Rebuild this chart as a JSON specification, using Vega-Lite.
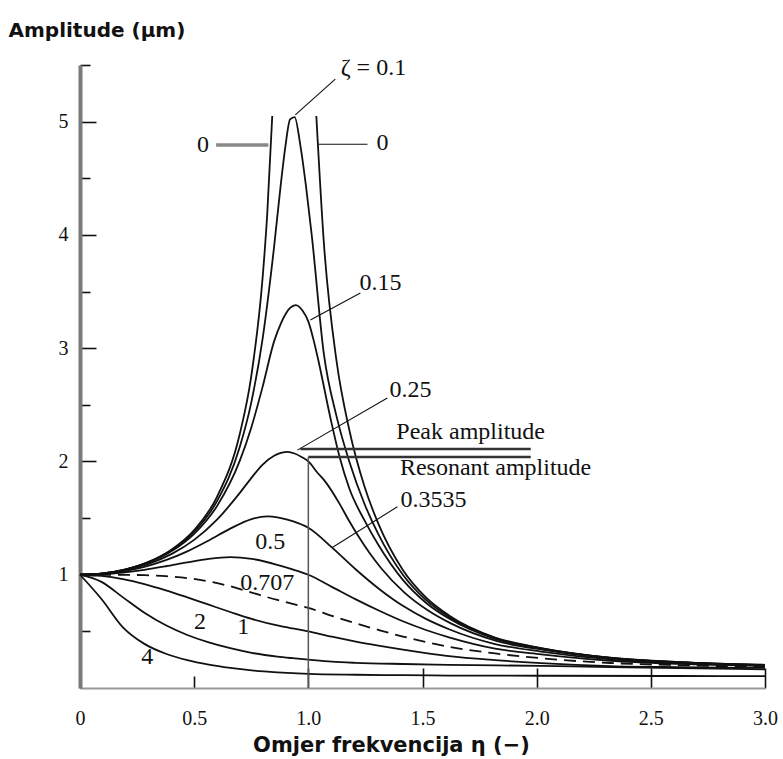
{
  "$schema": "https://vega.github.io/schema/vega-lite/v6.json",
  "width": 685,
  "height": 623,
  "autosize": {"type": "none"},
  "padding": {"left": 80, "top": 65, "right": 18, "bottom": 71},
  "background": "white",
  "config": {"view": {"stroke": null}, "axis": {"grid": false}},
  "datasets": {
    "solid": [
      {"s":"0L","x":0,"y":1},{"s":"0L","x":0.1,"y":1.0114},{"s":"0L","x":0.2,"y":1.0474},{"s":"0L","x":0.3,"y":1.1135},{"s":"0L","x":0.4,"y":1.2212},{"s":"0L","x":0.5,"y":1.3945},{"s":"0L","x":0.6,"y":1.6875},{"s":"0L","x":0.7,"y":2.2452},{"s":"0L","x":0.75,"y":2.7518},{"s":"0L","x":0.8,"y":3.6272},{"s":"0L","x":0.82,"y":4.184},{"s":"0L","x":0.842,"y":5.05},
      {"s":"0R","x":1.035,"y":5.05},{"s":"0R","x":1.068,"y":3.931},{"s":"0R","x":1.123,"y":2.894},{"s":"0R","x":1.18,"y":2.273},{"s":"0R","x":1.246,"y":1.778},{"s":"0R","x":1.307,"y":1.449},{"s":"0R","x":1.414,"y":1.042},{"s":"0R","x":1.515,"y":0.8},{"s":"0R","x":1.616,"y":0.641},{"s":"0R","x":1.818,"y":0.446},{"s":"0R","x":2.02,"y":0.353},{"s":"0R","x":2.323,"y":0.268},{"s":"0R","x":2.626,"y":0.229},{"s":"0R","x":3.0,"y":0.205},
      {"s":"0.1","x":0,"y":1},{"s":"0.1","x":0.1,"y":1.0112},{"s":"0.1","x":0.2,"y":1.0464},{"s":"0.1","x":0.3,"y":1.1107},{"s":"0.1","x":0.4,"y":1.2146},{"s":"0.1","x":0.5,"y":1.3794},{"s":"0.1","x":0.6,"y":1.6496},{"s":"0.1","x":0.7,"y":2.1293},{"s":"0.1","x":0.75,"y":2.5196},{"s":"0.1","x":0.8,"y":3.0863},{"s":"0.1","x":0.85,"y":3.8943},{"s":"0.1","x":0.88,"y":4.457},{"s":"0.1","x":0.9,"y":4.7886},{"s":"0.1","x":0.92,"y":5.02},{"s":"0.1","x":0.94,"y":5.04},{"s":"0.1","x":0.965,"y":4.7908},{"s":"0.1","x":0.99,"y":4.4259},{"s":"0.1","x":1.015,"y":3.9965},{"s":"0.1","x":1.068,"y":2.95},{"s":"0.1","x":1.123,"y":2.4025},{"s":"0.1","x":1.18,"y":1.9952},{"s":"0.1","x":1.246,"y":1.6246},{"s":"0.1","x":1.307,"y":1.3562},{"s":"0.1","x":1.414,"y":1.0},{"s":"0.1","x":1.515,"y":0.7779},{"s":"0.1","x":1.616,"y":0.6279},{"s":"0.1","x":1.818,"y":0.4408},{"s":"0.1","x":2.02,"y":0.3504},{"s":"0.1","x":2.323,"y":0.2668},{"s":"0.1","x":2.626,"y":0.2279},{"s":"0.1","x":3.0,"y":0.2025},
      {"s":"0.15","x":0,"y":1},{"s":"0.15","x":0.1,"y":1.0109},{"s":"0.15","x":0.2,"y":1.0451},{"s":"0.15","x":0.3,"y":1.1072},{"s":"0.15","x":0.4,"y":1.2066},{"s":"0.15","x":0.5,"y":1.3612},{"s":"0.15","x":0.6,"y":1.6057},{"s":"0.15","x":0.7,"y":2.0069},{"s":"0.15","x":0.75,"y":2.2981},{"s":"0.15","x":0.8,"y":2.6612},{"s":"0.15","x":0.85,"y":3.06},{"s":"0.15","x":0.88,"y":3.22},{"s":"0.15","x":0.9,"y":3.3},{"s":"0.15","x":0.92,"y":3.355},{"s":"0.15","x":0.945,"y":3.38},{"s":"0.15","x":0.975,"y":3.33},{"s":"0.15","x":1.001,"y":3.23},{"s":"0.15","x":1.022,"y":3.08},{"s":"0.15","x":1.043,"y":2.9},{"s":"0.15","x":1.098,"y":2.3728},{"s":"0.15","x":1.137,"y":2.039},{"s":"0.15","x":1.18,"y":1.759},{"s":"0.15","x":1.246,"y":1.4792},{"s":"0.15","x":1.307,"y":1.2617},{"s":"0.15","x":1.414,"y":0.9543},{"s":"0.15","x":1.515,"y":0.7527},{"s":"0.15","x":1.616,"y":0.6127},{"s":"0.15","x":1.818,"y":0.434},{"s":"0.15","x":2.02,"y":0.3469},{"s":"0.15","x":2.323,"y":0.2651},{"s":"0.15","x":2.626,"y":0.227},{"s":"0.15","x":3.0,"y":0.202},
      {"s":"0.25","x":0,"y":1},{"s":"0.25","x":0.1,"y":1.01},{"s":"0.25","x":0.2,"y":1.041},{"s":"0.25","x":0.3,"y":1.0963},{"s":"0.25","x":0.4,"y":1.1819},{"s":"0.25","x":0.5,"y":1.3075},{"s":"0.25","x":0.6,"y":1.4857},{"s":"0.25","x":0.7,"y":1.7225},{"s":"0.25","x":0.75,"y":1.8531},{"s":"0.25","x":0.8,"y":1.9722},{"s":"0.25","x":0.85,"y":2.05},{"s":"0.25","x":0.88,"y":2.075},{"s":"0.25","x":0.91,"y":2.085},{"s":"0.25","x":0.94,"y":2.07},{"s":"0.25","x":0.97,"y":2.04},{"s":"0.25","x":1.0,"y":2.0},{"s":"0.25","x":1.04,"y":1.9},{"s":"0.25","x":1.075,"y":1.82},{"s":"0.25","x":1.137,"y":1.6258},{"s":"0.25","x":1.177,"y":1.4811},{"s":"0.25","x":1.218,"y":1.344},{"s":"0.25","x":1.269,"y":1.1893},{"s":"0.25","x":1.32,"y":1.0549},{"s":"0.25","x":1.421,"y":0.8417},{"s":"0.25","x":1.523,"y":0.686},{"s":"0.25","x":1.624,"y":0.5704},{"s":"0.25","x":1.827,"y":0.4142},{"s":"0.25","x":2.03,"y":0.3362},{"s":"0.25","x":2.335,"y":0.2602},{"s":"0.25","x":2.639,"y":0.2244},{"s":"0.25","x":3.0,"y":0.2006},
      {"s":"0.3535","x":0,"y":1},{"s":"0.3535","x":0.094,"y":1.0075},{"s":"0.3535","x":0.188,"y":1.0305},{"s":"0.3535","x":0.282,"y":1.0702},{"s":"0.3535","x":0.376,"y":1.1282},{"s":"0.3535","x":0.47,"y":1.206},{"s":"0.3535","x":0.564,"y":1.3023},{"s":"0.3535","x":0.658,"y":1.4071},{"s":"0.3535","x":0.752,"y":1.4914},{"s":"0.3535","x":0.82,"y":1.515},{"s":"0.3535","x":0.87,"y":1.505},{"s":"0.3535","x":0.931,"y":1.4732},{"s":"0.3535","x":1.0,"y":1.4142},{"s":"0.3535","x":1.103,"y":1.2412},{"s":"0.3535","x":1.208,"y":1.0462},{"s":"0.3535","x":1.313,"y":0.87},{"s":"0.3535","x":1.414,"y":0.7252},{"s":"0.3535","x":1.515,"y":0.61},{"s":"0.3535","x":1.616,"y":0.5189},{"s":"0.3535","x":1.818,"y":0.3881},{"s":"0.3535","x":2.02,"y":0.3215},{"s":"0.3535","x":2.323,"y":0.253},{"s":"0.3535","x":2.626,"y":0.2204},{"s":"0.3535","x":3.0,"y":0.1985},
      {"s":"0.5","x":0,"y":1},{"s":"0.5","x":0.094,"y":1.005},{"s":"0.5","x":0.188,"y":1.0198},{"s":"0.5","x":0.282,"y":1.0436},{"s":"0.5","x":0.376,"y":1.0748},{"s":"0.5","x":0.47,"y":1.1094},{"s":"0.5","x":0.564,"y":1.1399},{"s":"0.5","x":0.658,"y":1.1546},{"s":"0.5","x":0.752,"y":1.1399},{"s":"0.5","x":0.864,"y":1.0872},{"s":"0.5","x":0.931,"y":1.0471},{"s":"0.5","x":1.0,"y":1.0},{"s":"0.5","x":1.103,"y":0.893},{"s":"0.5","x":1.208,"y":0.7824},{"s":"0.5","x":1.313,"y":0.6795},{"s":"0.5","x":1.414,"y":0.5891},{"s":"0.5","x":1.515,"y":0.5121},{"s":"0.5","x":1.616,"y":0.4475},{"s":"0.5","x":1.818,"y":0.348},{"s":"0.5","x":2.02,"y":0.2974},{"s":"0.5","x":2.323,"y":0.2404},{"s":"0.5","x":2.626,"y":0.2132},{"s":"0.5","x":3.0,"y":0.1945},
      {"s":"1","x":0,"y":1},{"s":"1","x":0.094,"y":0.9901},{"s":"1","x":0.188,"y":0.9615},{"s":"1","x":0.282,"y":0.9174},{"s":"1","x":0.376,"y":0.8621},{"s":"1","x":0.47,"y":0.8},{"s":"1","x":0.564,"y":0.7353},{"s":"1","x":0.658,"y":0.6711},{"s":"1","x":0.752,"y":0.6098},{"s":"1","x":0.864,"y":0.5525},{"s":"1","x":0.931,"y":0.5256},{"s":"1","x":1.0,"y":0.5},{"s":"1","x":1.103,"y":0.4525},{"s":"1","x":1.208,"y":0.4098},{"s":"1","x":1.313,"y":0.3717},{"s":"1","x":1.414,"y":0.3378},{"s":"1","x":1.515,"y":0.3077},{"s":"1","x":1.616,"y":0.2809},{"s":"1","x":1.818,"y":0.2458},{"s":"1","x":2.02,"y":0.22},{"s":"1","x":2.323,"y":0.194},{"s":"1","x":2.626,"y":0.1839},{"s":"1","x":3.0,"y":0.1768},
      {"s":"2","x":0,"y":1},{"s":"2","x":0.094,"y":0.9365},{"s":"2","x":0.188,"y":0.8002},{"s":"2","x":0.282,"y":0.664},{"s":"2","x":0.376,"y":0.5534},{"s":"2","x":0.47,"y":0.4682},{"s":"2","x":0.564,"y":0.4026},{"s":"2","x":0.658,"y":0.3514},{"s":"2","x":0.752,"y":0.3105},{"s":"2","x":0.864,"y":0.2774},{"s":"2","x":0.931,"y":0.2631},{"s":"2","x":1.0,"y":0.25},{"s":"2","x":1.103,"y":0.232},{"s":"2","x":1.208,"y":0.222},{"s":"2","x":1.414,"y":0.212},{"s":"2","x":1.616,"y":0.205},{"s":"2","x":2.02,"y":0.195},{"s":"2","x":2.323,"y":0.185},{"s":"2","x":2.626,"y":0.175},{"s":"2","x":3.0,"y":0.165},
      {"s":"4","x":0,"y":1},{"s":"4","x":0.094,"y":0.7856},{"s":"4","x":0.188,"y":0.5359},{"s":"4","x":0.282,"y":0.3896},{"s":"4","x":0.376,"y":0.3023},{"s":"4","x":0.47,"y":0.2457},{"s":"4","x":0.564,"y":0.2065},{"s":"4","x":0.658,"y":0.1778},{"s":"4","x":0.752,"y":0.156},{"s":"4","x":0.864,"y":0.1388},{"s":"4","x":1.0,"y":0.125},{"s":"4","x":1.208,"y":0.117},{"s":"4","x":1.414,"y":0.113},{"s":"4","x":1.616,"y":0.11},{"s":"4","x":2.02,"y":0.108},{"s":"4","x":2.626,"y":0.106},{"s":"4","x":3.0,"y":0.105}
    ],
    "dashed": [
      {"s":"0.707","x":0,"y":1},{"s":"0.707","x":0.094,"y":1.0},{"s":"0.707","x":0.188,"y":0.9992},{"s":"0.707","x":0.282,"y":0.996},{"s":"0.707","x":0.376,"y":0.9874},{"s":"0.707","x":0.47,"y":0.9701},{"s":"0.707","x":0.564,"y":0.9409},{"s":"0.707","x":0.658,"y":0.898},{"s":"0.707","x":0.752,"y":0.8423},{"s":"0.707","x":0.864,"y":0.7771},{"s":"0.707","x":0.931,"y":0.7423},{"s":"0.707","x":1.0,"y":0.7071},{"s":"0.707","x":1.103,"y":0.6372},{"s":"0.707","x":1.208,"y":0.5704},{"s":"0.707","x":1.313,"y":0.5092},{"s":"0.707","x":1.414,"y":0.4545},{"s":"0.707","x":1.515,"y":0.4061},{"s":"0.707","x":1.616,"y":0.3639},{"s":"0.707","x":1.818,"y":0.3049},{"s":"0.707","x":2.02,"y":0.2625},{"s":"0.707","x":2.323,"y":0.2207},{"s":"0.707","x":2.626,"y":0.2013},{"s":"0.707","x":3.0,"y":0.1876}
    ],
    "leaders": [
      {"x":0.943,"y":5.06,"x2":1.118,"y2":5.375},
      {"x":1.044,"y":4.8,"x2":1.259,"y2":4.8},
      {"x":1.009,"y":3.249,"x2":1.228,"y2":3.487},
      {"x":0.952,"y":2.1,"x2":1.346,"y2":2.56},
      {"x":1.105,"y":1.24,"x2":1.39,"y2":1.6}
    ],
    "refs": [
      {"x":0.965,"y":2.11,"x2":1.974,"y2":2.11},
      {"x":1.0,"y":2.04,"x2":1.974,"y2":2.04}
    ],
    "vline": [
      {"x":1.0,"y":0,"x2":1.0,"y2":2.04}
    ],
    "zeroline": [
      {"x":0.596,"y":4.794,"x2":0.825,"y2":4.794}
    ],
    "labels": [
      {"t":"ζ = 0.1","x":1.285,"y":5.474},
      {"t":"0","x":0.539,"y":4.794},
      {"t":"0","x":1.325,"y":4.81},
      {"t":"0.15","x":1.316,"y":3.576},
      {"t":"0.25","x":1.447,"y":2.63},
      {"t":"Peak amplitude","x":1.711,"y":2.26},
      {"t":"Resonant amplitude","x":1.82,"y":1.942},
      {"t":"0.3535","x":1.548,"y":1.66},
      {"t":"0.5","x":0.833,"y":1.289},
      {"t":"0.707","x":0.82,"y":0.927},
      {"t":"2","x":0.526,"y":0.583},
      {"t":"1","x":0.715,"y":0.539},
      {"t":"4","x":0.294,"y":0.274}
    ]
  },
  "encoding": {
    "x": {"field": "x", "type": "quantitative", "scale": {"domain": [0, 3], "nice": false, "zero": false},
      "axis": {"values": [0, 0.5, 1, 1.5, 2, 2.5, 3], "labelExpr": "datum.value === 0 ? '0' : format(datum.value, '.1f')",
        "labelFont": "Liberation Serif", "labelFontSize": 20, "labelColor": "#111",
        "labelPadding": {"condition": {"test": "datum.value === 0.5", "value": 32}, "value": 40},
        "labelFlush": false, "labelOverlap": false,
        "tickSize": {"condition": {"test": "datum.value === 0.5", "value": -12}, "value": -20}, "tickColor": "#111", "tickWidth": 1.6, "domainColor": "#999", "domainWidth": 2,
        "title": "Omjer frekvencija  η (−)", "titleFont": "DejaVu Sans", "titleFontWeight": "bold", "titleFontSize": 21,
        "titleX": 311, "titleY": 57, "titleAlign": "center", "titleBaseline": "middle", "titleColor": "#111"}},
    "y": {"field": "y", "type": "quantitative", "scale": {"domain": [0, 5.5], "nice": false},
      "axis": {"values": [0.5, 1, 1.5, 2, 2.5, 3, 3.5, 4, 4.5, 5, 5.5], "labelExpr": "datum.value % 1 === 0 ? format(datum.value, 'd') : ''",
        "labelFont": "Liberation Serif", "labelFontSize": 20, "labelColor": "#111", "labelPadding": 28, "labelOverlap": false,
        "tickSize": {"condition": {"test": "datum.value % 1 !== 0", "value": -10}, "value": -16}, "tickColor": "#111", "tickWidth": 1.6,
        "domainColor": "#7a7a7a", "domainWidth": 4,
        "title": "Amplitude (μm)", "titleAngle": 0, "titleAlign": "left", "titleBaseline": "middle", "titleX": -72, "titleY": -35,
        "titleFont": "DejaVu Sans", "titleFontWeight": "bold", "titleFontSize": 20, "titleColor": "#111"}}
  },
  "layer": [
    {
      "data": {"name": "solid"},
      "mark": {"type": "line", "interpolate": "monotone", "stroke": "#111", "strokeWidth": 1.8},
      "encoding": {"detail": {"field": "s"}}
    },
    {
      "data": {"name": "dashed"},
      "mark": {"type": "line", "interpolate": "monotone", "stroke": "#111", "strokeWidth": 1.8, "strokeDash": [12, 7]},
      "encoding": {}
    },
    {
      "data": {"name": "leaders"},
      "mark": {"type": "rule", "stroke": "#111", "strokeWidth": 1.1},
      "encoding": {"x2": {"field": "x2"}, "y2": {"field": "y2"}}
    },
    {
      "data": {"name": "refs"},
      "mark": {"type": "rule", "stroke": "#333", "strokeWidth": 2.5},
      "encoding": {"x2": {"field": "x2"}, "y2": {"field": "y2"}}
    },
    {
      "data": {"name": "vline"},
      "mark": {"type": "rule", "stroke": "#555", "strokeWidth": 1.5},
      "encoding": {"x2": {"field": "x2"}, "y2": {"field": "y2"}}
    },
    {
      "data": {"name": "zeroline"},
      "mark": {"type": "rule", "stroke": "#888", "strokeWidth": 3.5},
      "encoding": {"x2": {"field": "x2"}, "y2": {"field": "y2"}}
    },
    {
      "data": {"name": "labels"},
      "mark": {"type": "text", "font": "Liberation Serif", "fontSize": 24, "align": "center", "baseline": "middle", "color": "#111"},
      "encoding": {"text": {"field": "t"}}
    }
  ]
}
